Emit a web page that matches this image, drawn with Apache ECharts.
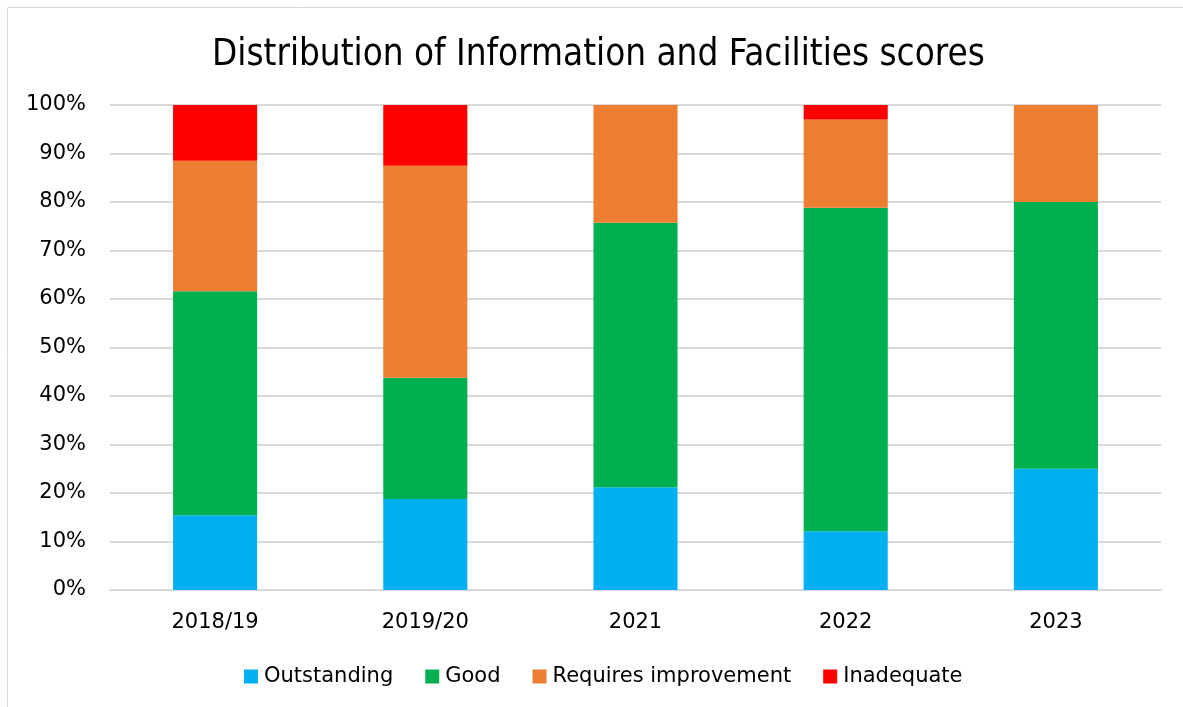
<!DOCTYPE html>
<html>
<head>
<meta charset="utf-8">
<script src="https://cdn.jsdelivr.net/npm/echarts@6/dist/echarts.min.js"></script>
<style>
  html, body { margin: 0; padding: 0; background: #fff; }
  #chart { width: 1183px; height: 707px; }
</style>
</head>
<body>
<div id="chart"></div>
<script>
var years = ['2018/19', '2019/20', '2021', '2022', '2023']
var outstanding = [15.4, 18.75, 21.2, 12.1, 25]
var good = [46.2, 25, 54.5, 66.7, 55]
var requiresImprovement = [26.9, 43.75, 24.3, 18.2, 20]
var inadequate = [11.5, 12.5, 0, 3.0, 0]
var yTicks = [0, 10, 20, 30, 40, 50, 60, 70, 80, 90, 100]

var font = '"DejaVu Sans", sans-serif'
var titleFont = '"DejaVu Sans Condensed", "DejaVu Sans", sans-serif'

function bar(name, data, color) {
  return {
    name: name,
    type: 'bar',
    stack: 'total',
    barWidth: '40%',
    data: data,
    itemStyle: { color: color },
    animation: false
  }
}

var chart = echarts.init(document.getElementById('chart'))
chart.setOption({
  textStyle: { fontFamily: font },
  graphic: [{
    type: 'rect',
    shape: { x: 7.5, y: 7.5, width: 1200, height: 720 },
    style: { fill: 'none', stroke: '#d9d9d9', lineWidth: 1 },
    silent: true
  }],
  title: {
    text: 'Distribution of Information and Facilities scores',
    left: 207,
    top: 32,
    textStyle: { fontFamily: titleFont, fontSize: 36.5, fontWeight: 'normal', color: '#000' }
  },
  legend: {
    bottom: 15,
    left: 239,
    icon: 'rect',
    itemWidth: 14,
    itemHeight: 14,
    itemGap: 32,
    textStyle: { fontFamily: font, fontSize: 21, color: '#000', padding: [0, 0, 0, 1] },
    data: ['Outstanding', 'Good', 'Requires improvement', 'Inadequate']
  },
  grid: { left: 110, right: 22, top: 105, bottom: 117 },
  xAxis: {
    type: 'category',
    data: years,
    axisLine: { show: true, lineStyle: { color: '#d9d9d9', width: 2 } },
    axisTick: { show: false },
    axisLabel: { margin: 22, fontFamily: font, fontSize: 21, color: '#000' }
  },
  yAxis: {
    type: 'value',
    min: yTicks[0],
    max: yTicks[yTicks.length - 1],
    interval: 10,
    axisLine: { show: false },
    axisTick: { show: false },
    splitLine: { lineStyle: { color: '#d9d9d9', width: 2 } },
    axisLabel: { margin: 24, fontFamily: font, fontSize: 21, color: '#000', formatter: '{value}%' }
  },
  series: [
    bar('Outstanding', outstanding, '#00b0f0'),
    bar('Good', good, '#00b050'),
    bar('Requires improvement', requiresImprovement, '#ed7d31'),
    bar('Inadequate', inadequate, '#ff0000')
  ]
})
</script>
</body>
</html>
